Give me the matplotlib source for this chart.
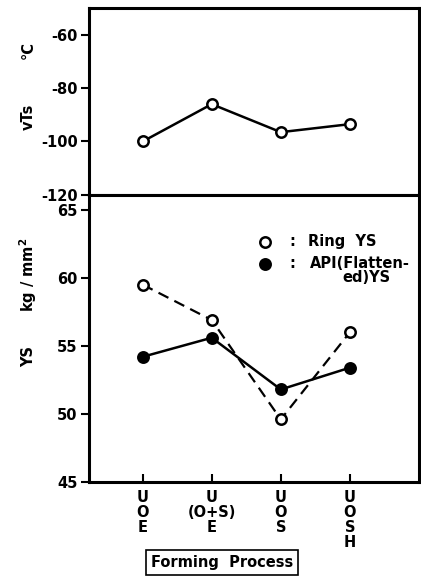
import numpy as np
import matplotlib
matplotlib.use("Agg")
import matplotlib.pyplot as plt

# ── Data ──────────────────────────────────────────────────────────────────────
processes  = ["U\nO\nE", "U\n(O+S)\nE", "U\nO\nS", "U\nO\nS\nH"]
vts        = [-100, -86, -96.5, -93.5]
ring_ys    = [59.5, 56.9, 49.6, 56.0]
api_ys     = [54.2, 55.6, 51.8, 53.4]
vts_ticks  = [-120, -100, -80, -60]
ys_ticks   = [45, 50, 55, 60, 65]

plt.rcParams["font.family"] = ["DejaVu Sans"]
plt.rcParams["font.weight"] = "bold"
plt.rcParams["font.size"] = 10.5
plt.rcParams["axes.unicode_minus"] = False

x = np.arange(len(processes))

fig = plt.figure(figsize=(4.21, 5.85), dpi=100)
ax_top = fig.add_axes([0.211, 0.667, 0.784, 0.319])
ax_bot = fig.add_axes([0.211, 0.176, 0.784, 0.491])

mk = dict(markersize=7.5, markeredgewidth=1.8, color="black")

# ── vTs panel ────────────────────────────────────────────────────────────────
ax_top.plot(x, vts, "o-", lw=1.8, markerfacecolor="white", **mk)
ax_top.set_ylim(-120, -50)
ax_top.set_yticks(vts_ticks)
ax_top.set_xticks([])

# ── YS panel ─────────────────────────────────────────────────────────────────
ax_bot.plot(x, ring_ys, "o--", lw=1.6, dashes=(5, 3), markerfacecolor="white", **mk)
ax_bot.plot(x, api_ys, "o-", lw=1.8, markerfacecolor="black", **mk)
ax_bot.set_ylim(45, 66.1)
ax_bot.set_yticks(ys_ticks)
ax_bot.set_xticks(x)
ax_bot.set_xticklabels(processes, linespacing=1.0, va="top")
ax_bot.tick_params(axis="x", direction="in", length=6, width=1.5, pad=6)

for ax in (ax_top, ax_bot):
    ax.set_xlim(-0.78, 4.0)
    ax.tick_params(axis="y", direction="out", length=6, width=1.5, pad=2)
    for s in ax.spines.values():
        s.set_linewidth(2.2)
    for lbl in ax.get_xticklabels() + ax.get_yticklabels():
        lbl.set_fontweight("bold")

# legend drawn by hand
ax_bot.plot([0.533], [0.836], "o", transform=ax_bot.transAxes,
            markerfacecolor="white", **mk)
ax_bot.plot([0.533], [0.760], "o", transform=ax_bot.transAxes,
            markerfacecolor="black", **mk)
ax_bot.text(0.615, 0.836, ":", transform=ax_bot.transAxes, ha="center", va="center")
ax_bot.text(0.615, 0.760, ":", transform=ax_bot.transAxes, ha="center", va="center")
ax_bot.text(0.665, 0.836, "Ring  YS", transform=ax_bot.transAxes, ha="left", va="center")
ax_bot.text(0.67, 0.760, "API(Flatten-", transform=ax_bot.transAxes, ha="left", va="center")
ax_bot.text(0.915, 0.712, "ed)YS", transform=ax_bot.transAxes, ha="right", va="center")

# axis titles
fig.text(0.067, 0.915, "°C", rotation=90, ha="center", va="center")
fig.text(0.067, 0.80, "vTs", rotation=90, ha="center", va="center")
fig.text(0.067, 0.53, "kg / mm$^\\mathbf{2}$", rotation=90, ha="center", va="center")
fig.text(0.067, 0.39, "YS", rotation=90, ha="center", va="center")

fig.text(0.527, 0.038, "Forming  Process", ha="center", va="center",
         bbox=dict(boxstyle="square,pad=0.35", facecolor="white",
                   edgecolor="black", linewidth=1.2))

fig.savefig("out.png", dpi=100)
